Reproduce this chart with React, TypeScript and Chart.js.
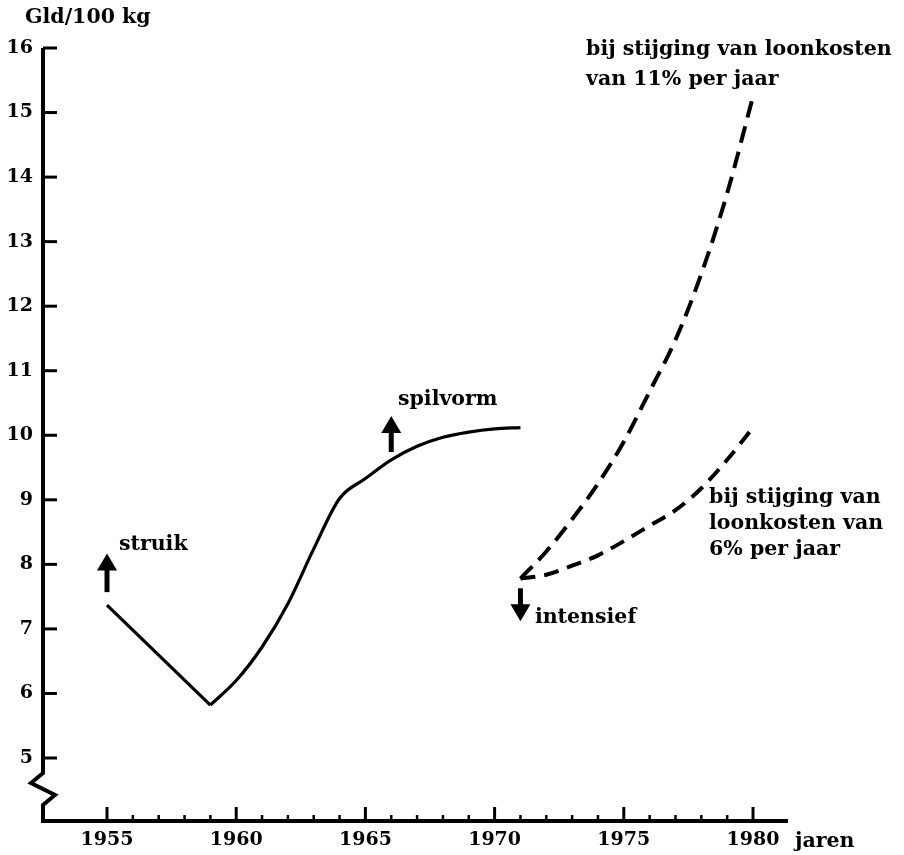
import React, { useEffect, useRef } from "react";
import { Chart, registerables } from "chart.js";

Chart.register(...registerables);

// ---- data ----
const STRUIK_YEARS = [1955, 1959];
const STRUIK_VALUES = [7.37, 5.82];

const ACTUAL_YEARS = [1959, 1960, 1961, 1962, 1963, 1964, 1965, 1966, 1967, 1968, 1969, 1970, 1971];
const ACTUAL_VALUES = [5.82, 6.2, 6.72, 7.39, 8.24, 9.02, 9.33, 9.62, 9.83, 9.97, 10.05, 10.1, 10.12];

const PROJ_YEARS = [1971, 1972, 1973, 1974, 1975, 1976, 1977, 1978, 1979, 1980];
const WAGE11_VALUES = [7.78, 8.2, 8.7, 9.25, 9.9, 10.68, 11.48, 12.5, 13.75, 15.25];
const WAGE6_VALUES = [7.78, 7.84, 7.98, 8.14, 8.36, 8.6, 8.84, 9.18, 9.62, 10.12];

const X_TICKS = [1955, 1960, 1965, 1970, 1975, 1980];
const X_MINOR_TICKS = [1956, 1957, 1958, 1959, 1961, 1962, 1963, 1964, 1966, 1967, 1968, 1969, 1971, 1972, 1973, 1974, 1976, 1977, 1978, 1979];
const Y_TICKS = [5, 6, 7, 8, 9, 10, 11, 12, 13, 14, 15, 16];

const Y_TITLE = "Gld/100 kg";
const X_TITLE = "jaren";
const LABEL_STRUIK = "struik";
const LABEL_SPILVORM = "spilvorm";
const LABEL_INTENSIEF = "intensief";
const LABEL_WAGE11 = ["bij stijging van loonkosten", "van 11% per jaar"];
const LABEL_WAGE6 = ["bij stijging van", "loonkosten van", "6% per jaar"];

const FONT_FAMILY = '"DejaVu Serif", "Liberation Serif", serif';
const INK = "#000";

const toXY = (xs: number[], ys: number[]) => xs.map((x, i) => ({ x, y: ys[i] }));

const overlayPlugin = {
  id: "overlay",
  afterDraw(chart: any) {
    const { ctx, chartArea } = chart;
    const xs = chart.scales.x;
    const ys = chart.scales.y;
    const left = chartArea.left;
    const right = chartArea.right;
    const bottom = chartArea.bottom;
    const top = ys.getPixelForValue(16);

    ctx.save();
    ctx.strokeStyle = INK;
    ctx.fillStyle = INK;

    // axes with break
    ctx.lineWidth = 4;
    ctx.lineJoin = "miter";
    ctx.lineCap = "butt";
    ctx.beginPath();
    ctx.moveTo(left, top);
    ctx.lineTo(left, bottom - 48);
    ctx.lineTo(left - 12, bottom - 38);
    ctx.lineTo(left + 12, bottom - 26);
    ctx.lineTo(left, bottom - 16);
    ctx.lineTo(left, bottom);
    ctx.lineTo(right, bottom);
    ctx.stroke();

    // y ticks (inward)
    ctx.lineWidth = 3;
    Y_TICKS.forEach((v) => {
      const y = ys.getPixelForValue(v);
      ctx.beginPath();
      ctx.moveTo(left, y);
      ctx.lineTo(left + 14, y);
      ctx.stroke();
    });
    // x ticks (upward)
    X_TICKS.forEach((v) => {
      const x = xs.getPixelForValue(v);
      ctx.beginPath();
      ctx.moveTo(x, bottom);
      ctx.lineTo(x, bottom - 14);
      ctx.stroke();
    });
    ctx.lineWidth = 2.5;
    X_MINOR_TICKS.forEach((v) => {
      const x = xs.getPixelForValue(v);
      ctx.beginPath();
      ctx.moveTo(x, bottom);
      ctx.lineTo(x, bottom - 6);
      ctx.stroke();
    });

    // arrows
    const arrow = (year: number, from: number, to: number) => {
      const x = xs.getPixelForValue(year);
      const y1 = ys.getPixelForValue(from);
      const y2 = ys.getPixelForValue(to);
      const dir = y2 < y1 ? -1 : 1;
      const headLen = 17;
      const headHalf = 10;
      ctx.lineWidth = 5;
      ctx.beginPath();
      ctx.moveTo(x, y1);
      ctx.lineTo(x, y2 - dir * headLen + dir * 2);
      ctx.stroke();
      ctx.beginPath();
      ctx.moveTo(x, y2);
      ctx.lineTo(x - headHalf, y2 - dir * headLen);
      ctx.lineTo(x + headHalf, y2 - dir * headLen);
      ctx.closePath();
      ctx.fill();
    };
    arrow(1955, 7.57, 8.17);
    arrow(1966.0, 9.74, 10.3);
    arrow(1971.0, 7.63, 7.12);

    // texts
    ctx.font = `bold 20.5px ${FONT_FAMILY}`;
    ctx.textAlign = "left";
    ctx.textBaseline = "middle";
    const text = (s: string, year: number, value: number) => {
      ctx.fillText(s, xs.getPixelForValue(year), ys.getPixelForValue(value));
    };
    text(LABEL_STRUIK, 1955.46, 8.3);
    text(LABEL_SPILVORM, 1966.26, 10.55);
    text(LABEL_INTENSIEF, 1971.56, 7.18);
    LABEL_WAGE11.forEach((s, i) => text(s, 1973.54, 15.97 - i * 0.465));
    LABEL_WAGE6.forEach((s, i) => text(s, 1978.3, 9.04 - i * 0.41));

    // axis titles
    ctx.fillText(Y_TITLE, 25, 18);
    ctx.textBaseline = "alphabetic";
    ctx.fillText(X_TITLE, 795, bottom + 26);

    ctx.restore();
  },
};

export default function App() {
  const canvasRef = useRef<HTMLCanvasElement | null>(null);

  useEffect(() => {
    document.body.style.margin = "0";
    const canvas = canvasRef.current;
    if (!canvas) return;

    const lineBase = {
      pointRadius: 0,
      pointHoverRadius: 0,
      borderColor: INK,
      backgroundColor: INK,
      fill: false,
      clip: false as any,
    };

    const chart = new Chart(canvas, {
      type: "line",
      data: {
        datasets: [
          {
            ...lineBase,
            label: "struik",
            data: toXY(STRUIK_YEARS, STRUIK_VALUES),
            borderWidth: 3.2,
            tension: 0,
          },
          {
            ...lineBase,
            label: "werkelijk",
            data: toXY(ACTUAL_YEARS, ACTUAL_VALUES),
            borderWidth: 3.2,
            cubicInterpolationMode: "monotone",
          },
          {
            ...lineBase,
            label: "11%",
            data: toXY(PROJ_YEARS, WAGE11_VALUES),
            borderWidth: 4,
            borderDash: [17, 9],
            cubicInterpolationMode: "monotone",
          },
          {
            ...lineBase,
            label: "6%",
            data: toXY(PROJ_YEARS, WAGE6_VALUES),
            borderWidth: 4,
            borderDash: [15, 9],
            cubicInterpolationMode: "monotone",
          },
        ] as any,
      },
      options: {
        animation: false,
        responsive: true,
        maintainAspectRatio: false,
        layout: { padding: { top: 48, right: 116, left: 0, bottom: 0 } },
        plugins: {
          legend: { display: false },
          tooltip: { enabled: false },
          title: { display: false },
        },
        events: [],
        scales: {
          x: {
            type: "linear",
            min: 1952.523,
            max: 1981.354,
            grid: { display: false, drawTicks: false, tickLength: 0 },
            border: { display: false },
            afterFit: (scale: any) => {
              scale.height = 34;
            },
            afterBuildTicks: (scale: any) => {
              scale.ticks = X_TICKS.map((v) => ({ value: v }));
            },
            ticks: {
              padding: 8,
              color: INK,
              maxRotation: 0,
              autoSkip: false,
              font: { family: FONT_FAMILY, size: 19, weight: "bold" },
              callback: (v: any) => String(v),
            },
          },
          y: {
            type: "linear",
            min: 4.024,
            max: 16,
            grid: { display: false, drawTicks: false, tickLength: 0 },
            border: { display: false },
            afterFit: (scale: any) => {
              scale.width = 43;
            },
            afterBuildTicks: (scale: any) => {
              scale.ticks = Y_TICKS.map((v) => ({ value: v }));
            },
            ticks: {
              padding: 10,
              color: INK,
              autoSkip: false,
              font: { family: FONT_FAMILY, size: 19, weight: "bold" },
              callback: (v: any) => String(v),
            },
          },
        },
      } as any,
      plugins: [overlayPlugin],
    });

    return () => chart.destroy();
  }, []);

  return (
    <div style={{ position: "relative", width: 904, height: 855, background: "#fff" }}>
      <canvas ref={canvasRef} />
    </div>
  );
}
